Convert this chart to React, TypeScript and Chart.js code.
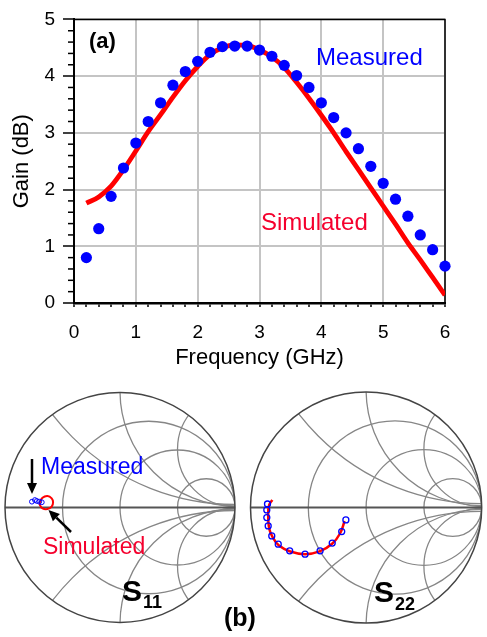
import React, { useEffect, useRef } from 'react';
import { Chart, registerables } from 'chart.js';

Chart.register(...registerables);

const FONT = '"Liberation Sans", Arial, Helvetica, sans-serif';

// ---------- (a) Gain vs frequency ----------
const freqMeasured = [0.2, 0.4, 0.6, 0.8, 1.0, 1.2, 1.4, 1.6, 1.8, 2.0, 2.2, 2.4, 2.6, 2.8, 3.0, 3.2, 3.4, 3.6, 3.8, 4.0, 4.2, 4.4, 4.6, 4.8, 5.0, 5.2, 5.4, 5.6, 5.8, 6.0];
const gainMeasured = [0.80, 1.31, 1.88, 2.38, 2.82, 3.20, 3.53, 3.84, 4.08, 4.26, 4.42, 4.52, 4.53, 4.53, 4.46, 4.35, 4.19, 4.01, 3.80, 3.53, 3.27, 3.00, 2.72, 2.41, 2.11, 1.83, 1.53, 1.20, 0.94, 0.65];
const freqSimulated = [0.2, 0.4, 0.6, 0.8, 1.0, 1.2, 1.4, 1.6, 1.8, 2.0, 2.2, 2.4, 2.6, 2.8, 3.0, 3.2, 3.4, 3.6, 3.8, 4.0, 4.2, 4.4, 4.6, 4.8, 5.0, 5.2, 5.4, 5.6, 5.8, 6.0];
const gainSimulated = [1.76, 1.87, 2.06, 2.35, 2.68, 3.02, 3.32, 3.63, 3.92, 4.17, 4.38, 4.50, 4.55, 4.54, 4.46, 4.34, 4.15, 3.89, 3.61, 3.31, 3.00, 2.67, 2.35, 2.03, 1.71, 1.39, 1.06, 0.76, 0.45, 0.14];
const xTickLabels = ['0', '1', '2', '3', '4', '5', '6'];
const yTickLabels = ['0', '1', '2', '3', '4', '5'];

// ---------- (b) Smith charts ----------
const s11MeasRe = [-0.766, -0.740, -0.723, -0.702, -0.680];
const s11MeasIm = [0.050, 0.064, 0.056, 0.050, 0.045];
const s11SimRe = [-0.697, -0.674, -0.631, -0.594, -0.582, -0.594, -0.631, -0.674, -0.697, -0.697];
const s11SimIm = [0.045, 0.084, 0.099, 0.079, 0.045, 0.007, -0.013, -0.007, 0.022, 0.045];

const s22MeasRe = [-0.853, -0.859, -0.859, -0.847, -0.816, -0.760, -0.661, -0.528, -0.398, -0.293, -0.211, -0.175];
const s22MeasIm = [0.030, -0.021, -0.086, -0.157, -0.242, -0.312, -0.369, -0.397, -0.369, -0.303, -0.205, -0.106];
const s22SimRe = [-0.811, -0.839, -0.847, -0.839, -0.811, -0.754, -0.656, -0.528, -0.402, -0.294, -0.224, -0.186];
const s22SimIm = [0.064, 0.021, -0.064, -0.177, -0.247, -0.324, -0.374, -0.397, -0.374, -0.309, -0.219, -0.115];

const resistanceCircles = [1 / 3, 1, 3];
const reactanceArcs = [0.5, 1, 2];

const BLUE = '#0000ff';
const RED = '#ff0000';
const RED_TEXT = '#f5002d';

const isInt = (v: number) => Math.abs(v - Math.round(v)) < 1e-6;

function drawArrow(ctx: CanvasRenderingContext2D, x1: number, y1: number, x2: number, y2: number) {
  const head = 11;
  const half = 5;
  const a = Math.atan2(y2 - y1, x2 - x1);
  const bx = x2 - head * Math.cos(a);
  const by = y2 - head * Math.sin(a);
  ctx.save();
  ctx.strokeStyle = '#000';
  ctx.fillStyle = '#000';
  ctx.lineWidth = 2.5;
  ctx.beginPath();
  ctx.moveTo(x1, y1);
  ctx.lineTo(bx, by);
  ctx.stroke();
  ctx.beginPath();
  ctx.moveTo(x2, y2);
  ctx.lineTo(bx + half * Math.sin(a), by - half * Math.cos(a));
  ctx.lineTo(bx - half * Math.sin(a), by + half * Math.cos(a));
  ctx.closePath();
  ctx.fill();
  ctx.restore();
}

function text(ctx: CanvasRenderingContext2D, s: string, x: number, y: number, font: string, color: string, baseline: CanvasTextBaseline = 'middle') {
  ctx.save();
  ctx.font = font;
  ctx.fillStyle = color;
  ctx.textAlign = 'left';
  ctx.textBaseline = baseline;
  ctx.fillText(s, x, y);
  ctx.restore();
}

function smithPlugin(id: string, extra: (ctx: CanvasRenderingContext2D) => void) {
  return {
    id,
    beforeDatasetsDraw(chart: any) {
      const ctx: CanvasRenderingContext2D = chart.ctx;
      const xs = chart.scales.x;
      const ys = chart.scales.y;
      const px = (v: number) => xs.getPixelForValue(v);
      const py = (v: number) => ys.getPixelForValue(v);
      const R = (px(1) - px(-1)) / 2;
      const cx = px(0);
      const cy = py(0);
      ctx.save();
      ctx.beginPath();
      ctx.arc(cx, cy, R, 0, Math.PI * 2);
      ctx.clip();
      ctx.strokeStyle = '#868686';
      ctx.lineWidth = 1.3;
      resistanceCircles.forEach((r) => {
        ctx.beginPath();
        ctx.arc(px(r / (1 + r)), cy, R / (1 + r), 0, Math.PI * 2);
        ctx.stroke();
      });
      reactanceArcs.forEach((xv) => {
        [1, -1].forEach((s) => {
          ctx.beginPath();
          ctx.arc(px(1), py(s / xv), R / xv, 0, Math.PI * 2);
          ctx.stroke();
        });
      });
      ctx.restore();
      ctx.save();
      ctx.strokeStyle = '#555';
      ctx.lineWidth = 2;
      ctx.beginPath();
      ctx.moveTo(px(-1), cy);
      ctx.lineTo(px(1), cy);
      ctx.stroke();
      ctx.strokeStyle = '#444';
      ctx.lineWidth = 1.5;
      ctx.beginPath();
      ctx.arc(cx, cy, R, 0, Math.PI * 2);
      ctx.stroke();
      ctx.restore();
    },
    afterDraw(chart: any) {
      extra(chart.ctx);
    },
  };
}

const topDecor = {
  id: 'topDecor',
  beforeDatasetsDraw(chart: any) {
    const ctx: CanvasRenderingContext2D = chart.ctx;
    const { left, right, top, bottom } = chart.chartArea;
    const ys = chart.scales.y;
    ctx.save();
    ctx.strokeStyle = '#000';
    ctx.lineWidth = 1.5;
    ctx.beginPath();
    ctx.moveTo(left, top);
    ctx.lineTo(right, top);
    ctx.lineTo(right, bottom);
    ctx.stroke();
    // minor y ticks
    for (let i = 1; i < 25; i++) {
      if (i % 5 === 0) continue;
      const y = ys.getPixelForValue(i * 0.2);
      ctx.beginPath();
      ctx.moveTo(left - 6, y);
      ctx.lineTo(left, y);
      ctx.stroke();
    }
    ctx.restore();
  },
  afterDraw(chart: any) {
    const ctx: CanvasRenderingContext2D = chart.ctx;
    text(ctx, '(a)', 89, 42, `bold 22px ${FONT}`, '#000');
    text(ctx, 'Measured', 316, 58, `24px ${FONT}`, BLUE);
    text(ctx, 'Simulated', 261, 223, `24px ${FONT}`, RED_TEXT);
  },
};

const App = () => {
  const topRef = useRef<HTMLCanvasElement>(null);
  const s11Ref = useRef<HTMLCanvasElement>(null);
  const s22Ref = useRef<HTMLCanvasElement>(null);

  useEffect(() => {
    Chart.defaults.font.family = FONT;
    const charts: Chart[] = [];

    charts.push(
      new Chart(topRef.current!, {
        type: 'scatter',
        data: {
          datasets: [
            {
              label: 'Measured',
              data: freqMeasured.map((f, i) => ({ x: f, y: gainMeasured[i] })),
              pointRadius: 5.6,
              pointBackgroundColor: BLUE,
              pointBorderWidth: 0,
              showLine: false,
              clip: 10,
            },
            {
              label: 'Simulated',
              data: freqSimulated.map((f, i) => ({ x: f, y: gainSimulated[i] })),
              showLine: true,
              borderColor: RED,
              borderWidth: 4.8,
              pointRadius: 0,
              tension: 0.4,
              cubicInterpolationMode: 'monotone',
            },
          ],
        },
        options: {
          responsive: false,
          animation: false,
          events: [],
          layout: { padding: { left: 0, right: 42, top: 14, bottom: 266 } },
          plugins: { legend: { display: false }, tooltip: { enabled: false } },
          scales: {
            x: {
              type: 'linear',
              min: 0,
              max: 6,
              afterFit: (s: any) => { s.height = 68; },
              ticks: {
                stepSize: 0.2,
                autoSkip: false,
                maxRotation: 0,
                minRotation: 0,
                padding: 14,
                color: '#000',
                font: { size: 19 },
                callback: (v: any) => (isInt(Number(v)) ? xTickLabels[Math.round(Number(v))] : ''),
              },
              grid: {
                color: (c: any) => (isInt(c.tick.value) ? '#c4c4c4' : 'rgba(0,0,0,0)'),
                lineWidth: 2,
                drawTicks: true,
                tickLength: 4,
                tickColor: '#000',
                tickWidth: 1.5,
              },
              border: { display: true, color: '#000', width: 2.5 },
              title: { display: true, text: 'Frequency (GHz)', color: '#000', font: { size: 22 }, padding: { top: 0, bottom: 0 } },
            },
            y: {
              type: 'linear',
              min: 0,
              max: 5,
              afterFit: (s: any) => { s.width = 74; },
              ticks: {
                stepSize: 1,
                padding: 8,
                color: '#000',
                font: { size: 19 },
                callback: (v: any) => yTickLabels[Math.round(Number(v))],
              },
              grid: {
                color: '#c4c4c4',
                lineWidth: 2,
                drawTicks: true,
                tickLength: 11,
                tickColor: '#000',
                tickWidth: 1.5,
              },
              border: { display: true, color: '#000', width: 2 },
              title: { display: true, text: 'Gain (dB)', color: '#000', font: { size: 22 }, padding: { top: 9, bottom: 0 } },
            },
          },
        },
        plugins: [topDecor],
      } as any)
    );

    const smithOpts = (pad: any) => ({
      responsive: false,
      animation: false,
      events: [],
      layout: { padding: pad },
      plugins: { legend: { display: false }, tooltip: { enabled: false } },
      scales: {
        x: { type: 'linear', min: -1, max: 1, display: false },
        y: { type: 'linear', min: -1, max: 1, display: false },
      },
    });

    charts.push(
      new Chart(s11Ref.current!, {
        type: 'scatter',
        data: {
          datasets: [
            {
              label: 'Measured',
              data: s11MeasRe.map((re, i) => ({ x: re, y: s11MeasIm[i] })),
              pointRadius: 2.4,
              pointBorderColor: BLUE,
              pointBackgroundColor: 'rgba(0,0,0,0)',
              pointBorderWidth: 1,
              showLine: false,
            },
            {
              label: 'Simulated',
              data: s11SimRe.map((re, i) => ({ x: re, y: s11SimIm[i] })),
              showLine: true,
              borderColor: RED,
              borderWidth: 2,
              pointRadius: 0,
              tension: 0.45,
            },
          ],
        },
        options: smithOpts({ left: 2, right: 252, top: 391, bottom: 13 }),
        plugins: [
          smithPlugin('s11Grid', (ctx) => {
            drawArrow(ctx, 32, 459, 32, 494);
            drawArrow(ctx, 71, 532, 48.5, 510);
            text(ctx, 'Measured', 41, 468, `23px ${FONT}`, BLUE);
            text(ctx, 'Simulated', 43, 548, `23px ${FONT}`, RED_TEXT);
            text(ctx, 'S', 122, 601, `bold 30px ${FONT}`, '#000', 'alphabetic');
            text(ctx, '11', 143, 608, `bold 18px ${FONT}`, '#000', 'alphabetic');
          }),
        ],
      } as any)
    );

    charts.push(
      new Chart(s22Ref.current!, {
        type: 'scatter',
        data: {
          datasets: [
            {
              label: 'Measured',
              data: s22MeasRe.map((re, i) => ({ x: re, y: s22MeasIm[i] })),
              pointRadius: 3,
              pointBorderColor: BLUE,
              pointBackgroundColor: 'rgba(0,0,0,0)',
              pointBorderWidth: 1.3,
              showLine: false,
            },
            {
              label: 'Simulated',
              data: s22SimRe.map((re, i) => ({ x: re, y: s22SimIm[i] })),
              showLine: true,
              borderColor: RED,
              borderWidth: 2.5,
              pointRadius: 0,
              tension: 0.4,
            },
          ],
        },
        options: smithOpts({ left: 250.5, right: 1.5, top: 390, bottom: 12 }),
        plugins: [
          smithPlugin('s22Grid', (ctx) => {
            text(ctx, 'S', 374, 601.5, `bold 30px ${FONT}`, '#000', 'alphabetic');
            text(ctx, '22', 395, 610, `bold 18px ${FONT}`, '#000', 'alphabetic');
            text(ctx, '(b)', 224, 619, `bold 25px ${FONT}`, '#000');
          }),
        ],
      } as any)
    );

    return () => charts.forEach((c) => c.destroy());
  }, []);

  const cs: React.CSSProperties = { position: 'absolute', left: 0, top: 0, width: 487, height: 637 };
  return (
    <div style={{ position: 'absolute', left: 0, top: 0, width: 487, height: 637, background: '#fff' }}>
      <canvas ref={s11Ref} width={487} height={637} style={cs} />
      <canvas ref={s22Ref} width={487} height={637} style={cs} />
      <canvas ref={topRef} width={487} height={637} style={cs} />
    </div>
  );
};

export default App;
